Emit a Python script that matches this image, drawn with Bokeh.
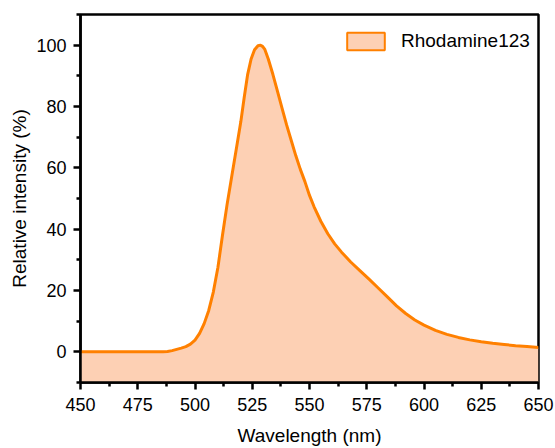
from bokeh.plotting import figure
from bokeh.models import Range1d, FixedTicker, Legend, LegendItem, ColumnDataSource
from bokeh.embed import file_html
from bokeh.resources import INLINE

# ---- data ----
wavelength = [450, 460, 470, 480, 486, 488, 490, 492, 494, 496, 498, 500, 502, 504,
              506, 508, 510, 512, 514, 516, 518, 520, 521.5, 523, 524.5, 526,
              527.5, 528.6, 529.5, 530.5, 532, 534, 536, 538, 540, 542, 544,
              546, 548, 550, 552, 555, 558, 561, 564, 568, 572, 576, 580,
              584, 588, 592, 596, 600, 605, 610, 615, 620, 625, 630, 635,
              640, 645, 650]
intensity = [0, 0, 0, 0, 0, 0.1, 0.4, 0.8, 1.2, 1.7, 2.5, 3.8, 6.0, 9.2,
             13.5, 19.5, 27.5, 38, 48, 57, 66, 75, 83, 90.5, 95.5, 98.5,
             99.8, 100, 99.6, 98.6, 95.5, 90.5, 85, 79.5, 74, 69, 64,
             59.5, 55.5, 51, 47.3, 42.5, 38.5, 35.2, 32.5, 29.3, 26.5, 23.7, 20.8,
             17.9, 15.0, 12.5, 10.4, 8.7, 7.0, 5.7, 4.7, 3.9, 3.3, 2.8, 2.4,
             2.0, 1.7, 1.4]
series_name = "Rhodamine123"
x_ticks = [450, 475, 500, 525, 550, 575, 600, 625, 650]
x_minor = [462.5, 487.5, 512.5, 537.5, 562.5, 587.5, 612.5, 637.5]
y_ticks = [0, 20, 40, 60, 80, 100]
y_minor = [-10, 10, 30, 50, 70, 90, 110]
x_lim = (450, 650)
y_lim = (-10, 110)

LINE = "#FF8000"
FILL = "#FDD0B4"
FONT = "Liberation Sans"
NAN = float("nan")

p = figure(width=555, height=448, output_backend="svg", toolbar_location=None,
           x_range=Range1d(*x_lim), y_range=Range1d(*y_lim),
           min_border_left=80, min_border_right=17, min_border_top=14, min_border_bottom=66)
p.grid.visible = False
p.outline_line_color = "black"
p.outline_line_width = 2.5
p.background_fill_color = "white"
p.border_fill_color = "white"

src = ColumnDataSource(dict(x=wavelength, y=intensity, base=[y_lim[0]] * len(wavelength)))
p.varea(x="x", y1="base", y2="y", source=src, fill_color=FILL)
p.line(x="x", y="y", source=src, line_color=LINE, line_width=3, line_join="round")

# legend-only swatch renderer (no visible data)
dummy = p.quad(left=[NAN], right=[NAN], bottom=[NAN], top=[NAN],
               fill_color=FILL, line_color=LINE, line_width=2)

for ax, ticks, minor in ((p.xaxis[0], x_ticks, x_minor), (p.yaxis[0], y_ticks, y_minor)):
    ax.ticker = FixedTicker(ticks=ticks, minor_ticks=minor)
    ax.axis_line_width = 2.5
    ax.major_tick_line_width = 2.5
    ax.minor_tick_line_width = 2.5
    ax.major_tick_out = 7
    ax.major_tick_in = 0
    ax.minor_tick_out = 4
    ax.minor_tick_in = 0
    ax.major_label_text_font = FONT
    ax.major_label_text_font_size = "18px"
    ax.major_label_text_color = "black"
    ax.axis_label_text_font = FONT
    ax.axis_label_text_font_size = "19px"
    ax.axis_label_text_font_style = "normal"
    ax.axis_label_text_color = "black"

p.xaxis[0].major_label_standoff = 8
p.yaxis[0].major_label_standoff = 7
p.xaxis[0].axis_label = "Wavelength (nm)"
p.yaxis[0].axis_label = "Relative intensity (%)"
p.xaxis[0].axis_label_standoff = 11
p.yaxis[0].axis_label_standoff = 3

legend = Legend(items=[LegendItem(label=series_name, renderers=[dummy])],
                location=(262, 330), border_line_color=None, background_fill_alpha=0,
                label_text_font=FONT, label_text_font_size="19px", label_text_color="black",
                glyph_width=47, glyph_height=22, label_standoff=12, padding=5, margin=0)
p.add_layout(legend)

open("out.html", "w").write(file_html(p, INLINE))
